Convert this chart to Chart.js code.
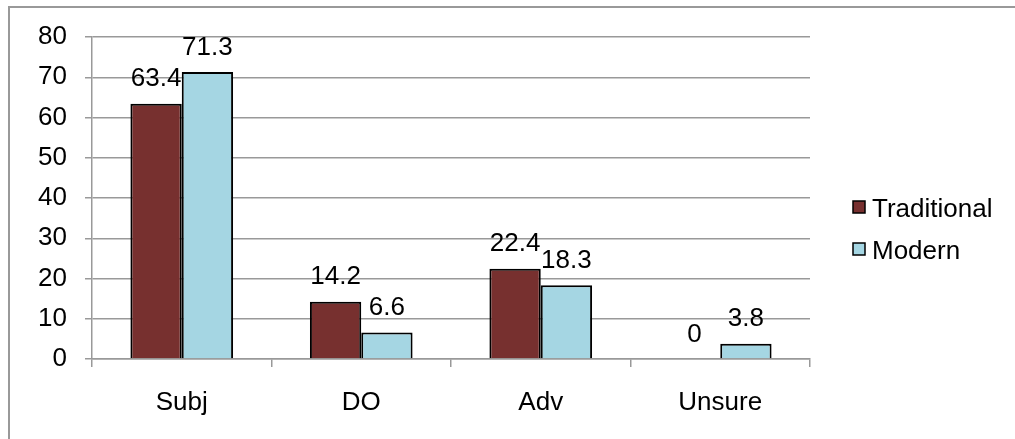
<!DOCTYPE html>
<html>
<head>
<meta charset="utf-8">
<script src="https://cdn.jsdelivr.net/npm/chart.js@4.4.1/dist/chart.umd.min.js"></script>
<style>
  html, body { margin: 0; padding: 0; background: #fff; overflow: hidden; width: 1015px; height: 439px; }
  #frame { position: absolute; left: 8px; top: 6px; width: 1200px; height: 700px; border: 2px solid #999; box-sizing: border-box; }
  #chart { position: absolute; left: 0; top: 0; }
</style>
</head>
<body>
<div id="frame"></div>
<canvas id="chart" width="1015" height="439"></canvas>
<script>
// Categories and series
const categories = ['Subj', 'DO', 'Adv', 'Unsure'];
const traditional = [63.4, 14.2, 22.4, 0];
const modern = [71.3, 6.6, 18.3, 3.8];
const seriesNames = ['Traditional', 'Modern'];
const seriesColors = ['#77302f', '#a5d6e3'];

const FONT = '"Liberation Sans", Arial, sans-serif';
const FONT_SIZE = 26;

// Value labels above each bar
const valueLabels = {
  id: 'valueLabels',
  afterDatasetsDraw(chart) {
    const ctx = chart.ctx;
    ctx.save();
    ctx.font = FONT_SIZE + 'px ' + FONT;
    ctx.fillStyle = '#000';
    ctx.textAlign = 'center';
    ctx.textBaseline = 'alphabetic';
    chart.data.datasets.forEach((ds, di) => {
      chart.getDatasetMeta(di).data.forEach((bar, i) => {
        ctx.fillText(String(ds.data[i]), bar.x, bar.y - 17.5);
      });
    });
    ctx.restore();
  }
};

// Legend on the right side
const sideLegend = {
  id: 'sideLegend',
  afterDraw(chart) {
    const ctx = chart.ctx;
    ctx.save();
    ctx.font = FONT_SIZE + 'px ' + FONT;
    ctx.textBaseline = 'alphabetic';
    ctx.textAlign = 'left';
    chart.data.datasets.forEach((ds, di) => {
      const base = 217 + di * 42;
      ctx.fillStyle = ds.backgroundColor;
      ctx.fillRect(853, base - 16, 12, 12);
      ctx.strokeStyle = '#000';
      ctx.lineWidth = 1.5;
      ctx.strokeRect(853, base - 16, 12, 12);
      ctx.fillStyle = '#000';
      ctx.fillText(ds.label, 872, base);
    });
    ctx.restore();
  }
};

new Chart(document.getElementById('chart'), {
  type: 'bar',
  data: {
    labels: categories,
    datasets: [
      { label: seriesNames[0], data: traditional, backgroundColor: seriesColors[0] },
      { label: seriesNames[1], data: modern, backgroundColor: seriesColors[1] }
    ]
  },
  options: {
    responsive: false,
    animation: false,
    devicePixelRatio: 1,
    layout: { padding: { left: 0, top: 37, right: 205, bottom: 0 } },
    datasets: {
      bar: {
        categoryPercentage: 0.572,
        barPercentage: 1,
        borderColor: '#000',
        borderWidth: (c) => (c.raw === 0 ? 0 : 2),
        borderSkipped: 'start'
      }
    },
    plugins: {
      legend: { display: false },
      tooltip: { enabled: false }
    },
    scales: {
      x: {
        grid: { display: true, drawOnChartArea: false, offset: true, tickLength: 8, color: '#999', lineWidth: 1.5 },
        border: { display: true, color: '#999', width: 1.5 },
        ticks: { font: { family: FONT, size: FONT_SIZE }, color: '#000', padding: 20, maxRotation: 0 },
        afterFit(scale) { scale.height = 80; }
      },
      y: {
        min: 0,
        max: 80,
        ticks: { stepSize: 10, font: { family: FONT, size: FONT_SIZE }, color: '#000', padding: 18 },
        grid: { color: '#999', lineWidth: 1.5, tickLength: 7 },
        border: { display: true, color: '#999', width: 1.5 },
        afterFit(scale) { scale.width = 92; }
      }
    }
  },
  plugins: [valueLabels, sideLegend]
});
</script>
</body>
</html>
